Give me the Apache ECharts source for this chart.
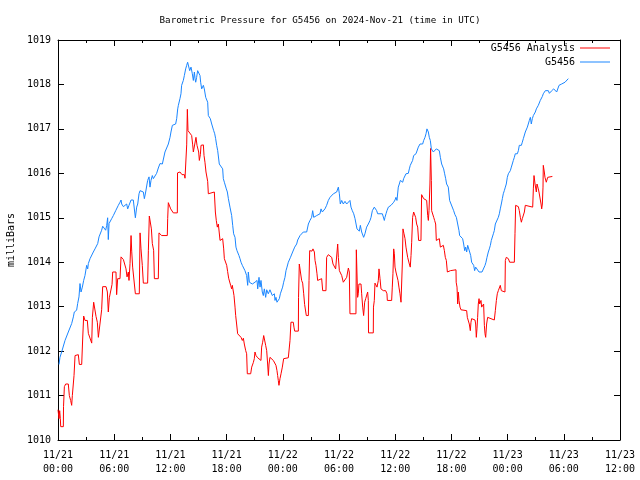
<!DOCTYPE html>
<html><head><meta charset="utf-8">
<script src="https://cdn.jsdelivr.net/npm/echarts@6/dist/echarts.min.js"></script>
<style>html,body{margin:0;padding:0;background:#fff}#c{width:640px;height:480px}</style>
</head><body><div id="c"></div><script>
// Hours since 2024-11-21 00:00 UTC
const xTickLabels = ['11/21\n00:00','11/21\n06:00','11/21\n12:00','11/21\n18:00','11/22\n00:00','11/22\n06:00','11/22\n12:00','11/22\n18:00','11/23\n00:00','11/23\n06:00','11/23\n12:00'];
const seriesNames = ['G5456 Analysis', 'G5456'];

const anaHours = [0.00,0.11,0.18,0.25,0.29,0.57,0.59,0.68,0.82,1.10,1.21,1.35,1.46,1.53,1.64,1.71,1.82,2.17,2.28,2.53,2.63,2.74,2.88,3.13,3.24,3.42,3.60,3.67,3.81,3.95,4.06,4.20,4.31,4.52,4.66,4.77,5.13,5.27,5.37,5.48,5.66,5.77,5.84,6.19,6.26,6.37,6.62,6.73,6.80,6.98,7.15,7.26,7.37,7.51,7.58,7.69,7.80,7.87,7.97,8.15,8.26,8.68,8.76,8.86,9.00,9.11,9.57,9.65,9.75,9.86,9.97,10.07,10.21,10.29,10.71,10.78,10.93,10.99,11.07,11.67,11.71,11.78,11.92,12.03,12.21,12.31,12.74,12.76,12.92,13.02,13.13,13.24,13.49,13.56,13.67,13.74,13.81,13.88,13.99,14.09,14.27,14.38,14.45,14.63,14.73,14.84,14.91,15.02,15.09,15.20,15.27,15.52,15.59,15.69,15.80,15.98,16.05,16.23,16.69,16.80,16.90,17.01,17.12,17.22,17.30,17.58,17.69,17.76,17.90,18.01,18.11,18.22,18.29,18.43,18.54,18.61,18.72,18.79,18.90,18.97,19.07,19.18,19.36,19.54,19.68,19.79,19.89,20.04,20.14,20.21,20.57,20.68,20.85,20.96,21.03,21.14,21.32,21.67,21.74,21.85,21.96,22.06,22.17,22.28,22.38,22.46,22.53,22.63,22.99,23.17,23.27,23.38,23.45,23.52,23.59,23.70,23.81,23.95,24.09,24.59,24.70,24.77,24.87,25.12,25.19,25.27,25.66,25.68,25.76,25.91,26.01,26.12,26.23,26.33,26.44,26.51,26.73,26.80,26.87,27.01,27.12,27.22,27.37,27.44,27.54,27.65,27.72,27.79,28.15,28.26,28.61,28.68,28.86,29.07,29.22,29.36,29.50,29.64,29.75,29.86,29.93,30.04,30.18,30.29,30.39,30.46,30.64,30.82,31.00,31.10,31.17,31.81,31.85,31.92,31.99,32.06,32.13,32.24,32.35,32.42,32.53,32.63,32.74,32.85,32.95,33.06,33.13,33.15,33.66,33.68,33.77,33.84,33.95,34.06,34.20,34.27,34.38,34.48,34.73,34.98,35.12,35.16,35.62,35.69,35.76,35.84,35.91,35.98,36.08,36.19,36.30,36.40,36.51,36.62,36.69,36.76,36.83,36.94,37.05,37.15,37.22,37.33,37.40,37.51,37.61,37.69,37.76,37.86,37.97,38.08,38.18,38.29,38.40,38.50,38.75,38.82,38.93,39.04,39.14,39.25,39.36,39.47,39.54,39.61,39.71,39.78,39.86,39.89,39.99,40.11,40.21,40.32,40.39,40.60,40.71,40.82,40.93,41.03,41.14,41.25,41.35,41.46,41.57,41.78,41.89,42.03,42.49,42.51,42.60,42.67,42.74,42.81,42.92,43.02,43.63,43.70,43.81,43.91,44.02,44.09,44.16,44.52,44.59,44.66,44.73,44.80,44.87,44.95,45.02,45.09,45.16,45.23,45.44,45.52,45.59,45.66,45.76,45.87,45.94,46.01,46.58,46.69,46.80,46.90,47.01,47.12,47.22,47.33,47.72,47.76,47.86,47.97,48.08,48.22,48.72,48.79,48.86,48.97,49.15,49.25,49.36,49.47,49.57,49.68,49.79,49.89,50.00,50.68,50.75,50.82,50.93,51.00,51.07,51.14,51.21,51.28,51.35,51.46,51.57,51.64,51.71,51.78,51.81,51.92,51.99,52.06,52.13,52.20,52.28,52.78];
const anaValues = [1010.68,1010.48,1010.66,1010.48,1010.30,1010.30,1010.75,1011.20,1011.26,1011.26,1011.00,1010.89,1010.78,1011.00,1011.04,1011.45,1011.90,1011.92,1011.70,1011.70,1012.25,1012.79,1012.69,1012.69,1012.40,1012.39,1012.18,1012.76,1013.10,1013.06,1012.78,1012.65,1012.31,1012.31,1012.93,1013.45,1013.45,1013.33,1012.88,1013.20,1013.20,1013.50,1013.78,1013.78,1013.27,1013.63,1013.63,1014.12,1014.08,1014.06,1014.06,1013.85,1013.67,1013.78,1013.59,1013.97,1014.60,1014.25,1013.89,1013.89,1013.29,1013.29,1014.66,1014.30,1013.93,1013.53,1013.53,1014.27,1015.04,1015.02,1014.75,1014.42,1014.27,1013.63,1013.63,1014.66,1014.68,1014.68,1014.60,1014.60,1014.98,1015.34,1015.31,1015.20,1015.16,1015.11,1015.11,1016.01,1015.99,1016.03,1016.04,1015.97,1015.97,1015.89,1015.86,1016.64,1017.44,1016.96,1016.94,1016.94,1016.85,1016.64,1016.48,1016.48,1016.81,1016.63,1016.59,1016.48,1016.29,1016.42,1016.63,1016.64,1016.40,1016.25,1016.03,1015.82,1015.54,1015.58,1015.58,1015.13,1014.94,1014.79,1014.86,1014.86,1014.49,1014.53,1014.30,1014.08,1014.09,1013.93,1013.79,1013.64,1013.64,1013.48,1013.40,1013.48,1013.48,1013.25,1012.99,1012.80,1012.61,1012.39,1012.37,1012.31,1012.24,1012.29,1012.16,1012.01,1011.94,1011.49,1011.49,1011.64,1011.74,1011.83,1011.98,1011.90,1011.85,1011.79,1012.09,1012.20,1012.35,1012.31,1012.13,1012.01,1011.71,1011.45,1011.71,1011.86,1011.79,1011.79,1011.68,1011.56,1011.45,1011.34,1011.23,1011.38,1011.49,1011.64,1011.83,1011.85,1011.86,1012.24,1012.65,1012.65,1012.54,1012.45,1012.45,1013.21,1013.96,1013.96,1013.59,1013.53,1013.29,1013.05,1013.03,1012.80,1012.80,1013.59,1014.26,1014.23,1014.25,1014.30,1014.23,1014.04,1013.93,1013.74,1013.59,1013.63,1013.63,1013.36,1013.36,1014.11,1014.17,1014.19,1014.11,1013.96,1013.96,1013.85,1013.89,1014.41,1014.11,1013.81,1013.81,1013.70,1013.74,1013.55,1013.59,1013.66,1013.87,1013.78,1012.84,1012.84,1014.28,1014.26,1013.21,1013.29,1013.51,1013.55,1013.51,1013.29,1012.99,1012.80,1013.10,1013.18,1013.14,1013.33,1013.14,1012.41,1012.41,1012.99,1013.14,1013.53,1013.54,1013.44,1013.59,1013.85,1013.63,1013.40,1013.36,1013.36,1013.29,1013.14,1013.14,1013.44,1013.74,1014.30,1014.19,1013.89,1013.78,1013.74,1013.59,1013.44,1013.29,1013.10,1013.10,1013.96,1014.75,1014.64,1014.53,1014.34,1014.30,1014.11,1014.11,1013.96,1013.89,1014.15,1014.45,1015.01,1015.13,1015.09,1015.01,1014.86,1014.79,1014.49,1014.49,1015.52,1015.50,1015.43,1015.39,1015.46,1015.39,1015.05,1014.94,1015.16,1015.76,1016.56,1015.84,1015.16,1015.16,1015.01,1014.94,1014.86,1014.49,1014.49,1014.53,1014.34,1014.30,1014.38,1014.38,1014.26,1014.11,1014.04,1013.78,1013.74,1013.81,1013.83,1013.83,1013.55,1013.44,1013.06,1013.33,1013.14,1012.99,1012.93,1012.91,1012.76,1012.73,1012.61,1012.46,1012.65,1012.73,1012.70,1012.61,1012.31,1012.50,1012.76,1013.06,1013.18,1013.06,1013.03,1013.14,1012.99,1013.06,1012.58,1012.39,1012.31,1012.61,1012.76,1012.80,1012.73,1012.70,1012.91,1013.14,1013.29,1013.36,1013.40,1013.48,1013.36,1013.33,1014.04,1014.11,1014.15,1014.08,1014.00,1014.00,1014.64,1015.28,1015.28,1015.25,1015.16,1015.01,1014.90,1014.98,1015.01,1015.13,1015.28,1015.31,1015.24,1015.65,1015.95,1015.76,1015.73,1015.58,1015.76,1015.73,1015.65,1015.58,1015.54,1015.31,1015.20,1015.31,1015.69,1016.18,1016.03,1015.91,1015.88,1015.80,1015.84,1015.91,1015.93];

const obsHours = [0.11,0.21,0.39,0.57,0.75,0.93,1.10,1.28,1.46,1.64,1.74,1.99,2.10,2.24,2.35,2.46,2.60,2.74,2.88,3.06,3.17,3.24,3.42,3.60,3.77,3.95,4.13,4.24,4.38,4.49,4.66,4.77,4.95,5.09,5.20,5.30,5.37,5.45,5.55,5.73,5.91,6.02,6.16,6.26,6.44,6.62,6.73,6.80,6.98,7.15,7.33,7.44,7.58,7.80,8.04,8.22,8.26,8.40,8.51,8.65,8.76,8.93,9.11,9.22,9.36,9.57,9.72,9.82,9.93,10.07,10.18,10.36,10.53,10.71,10.89,11.14,11.24,11.42,11.60,11.78,11.96,12.06,12.21,12.42,12.56,12.67,12.78,12.85,13.02,13.13,13.20,13.38,13.49,13.63,13.74,13.84,13.99,14.06,14.20,14.34,14.45,14.56,14.63,14.70,14.80,14.91,15.05,15.16,15.23,15.34,15.44,15.52,15.62,15.69,15.77,15.87,15.98,16.05,16.16,16.26,16.41,16.51,16.62,16.73,16.83,16.94,17.05,17.15,17.22,17.40,17.58,17.65,17.76,17.86,17.97,18.08,18.19,18.36,18.54,18.65,18.75,18.90,19.00,19.11,19.22,19.32,19.43,19.54,19.68,19.82,19.96,20.14,20.25,20.32,20.43,20.57,20.75,20.89,21.03,21.14,21.25,21.32,21.46,21.57,21.67,21.81,21.92,22.03,22.17,22.28,22.45,22.63,22.81,22.88,22.99,23.10,23.17,23.27,23.38,23.52,23.63,23.74,23.88,23.98,24.09,24.23,24.34,24.45,24.59,24.70,24.80,24.95,25.05,25.16,25.27,25.37,25.48,25.59,25.69,25.84,26.01,26.19,26.37,26.55,26.73,26.90,27.08,27.19,27.30,27.44,27.62,27.79,27.97,28.08,28.22,28.33,28.50,28.68,28.86,29.04,29.22,29.40,29.57,29.75,29.93,30.04,30.14,30.29,30.46,30.64,30.82,31.00,31.17,31.28,31.42,31.57,31.71,31.82,31.92,32.06,32.17,32.28,32.42,32.53,32.63,32.77,32.95,33.13,33.31,33.42,33.56,33.66,33.77,33.91,34.02,34.13,34.38,34.63,34.73,34.84,34.91,35.02,35.12,35.27,35.41,35.55,35.69,35.84,35.98,36.08,36.19,36.33,36.44,36.55,36.69,36.80,36.90,37.05,37.15,37.26,37.40,37.51,37.61,37.76,37.86,37.97,38.11,38.22,38.33,38.47,38.65,38.75,38.93,39.04,39.18,39.29,39.39,39.54,39.64,39.75,39.86,39.96,40.07,40.18,40.28,40.39,40.50,40.60,40.71,40.82,40.96,41.07,41.17,41.28,41.39,41.49,41.67,41.81,41.96,42.10,42.24,42.38,42.53,42.67,42.81,42.88,42.99,43.09,43.20,43.31,43.42,43.52,43.63,43.74,43.84,43.95,44.06,44.16,44.27,44.38,44.48,44.59,44.70,44.80,44.95,45.05,45.16,45.27,45.37,45.48,45.59,45.69,45.80,45.94,46.05,46.16,46.26,46.37,46.48,46.58,46.69,46.80,46.90,47.01,47.12,47.22,47.33,47.44,47.54,47.65,47.76,47.86,47.97,48.08,48.18,48.29,48.40,48.50,48.61,48.72,48.82,48.93,49.04,49.15,49.25,49.36,49.47,49.57,49.68,49.79,49.89,50.00,50.11,50.21,50.32,50.43,50.53,50.64,50.75,50.85,50.96,51.07,51.17,51.28,51.39,51.49,51.60,51.71,51.81,51.92,52.03,52.13,52.24,52.35,52.46,52.56,52.67,52.78,52.92,53.06,53.24,53.34,53.49,53.63,53.77,53.95,54.13,54.31,54.48];
const obsValues = [1011.70,1011.86,1011.98,1012.02,1012.24,1012.20,1012.43,1012.47,1012.62,1012.77,1012.88,1012.92,1013.07,1013.22,1013.52,1013.33,1013.44,1013.59,1013.70,1013.93,1013.85,1013.97,1014.08,1014.12,1014.23,1014.30,1014.27,1014.42,1014.57,1014.60,1014.72,1014.81,1014.79,1014.72,1014.83,1015.00,1014.51,1014.87,1014.90,1014.98,1015.05,1015.09,1015.16,1015.20,1015.28,1015.35,1015.40,1015.31,1015.25,1015.25,1015.31,1015.20,1015.28,1015.40,1015.40,1015.40,1015.00,1015.24,1015.31,1015.54,1015.61,1015.65,1015.58,1015.43,1015.58,1015.84,1015.92,1015.69,1015.84,1015.95,1015.88,1015.92,1016.00,1016.12,1016.22,1016.21,1016.25,1016.48,1016.57,1016.66,1016.81,1016.93,1017.08,1017.11,1017.11,1017.23,1017.45,1017.53,1017.68,1017.79,1017.98,1018.09,1018.20,1018.35,1018.43,1018.50,1018.50,1018.31,1018.39,1018.24,1018.09,1018.28,1018.13,1018.05,1018.16,1018.31,1018.31,1018.20,1018.05,1017.90,1017.94,1017.98,1017.90,1017.86,1017.71,1017.68,1017.60,1017.30,1017.26,1017.23,1017.11,1017.08,1016.96,1016.89,1016.78,1016.63,1016.51,1016.48,1016.21,1016.18,1016.10,1015.88,1015.80,1015.84,1015.65,1015.58,1015.43,1015.24,1015.05,1014.83,1014.64,1014.56,1014.34,1014.26,1014.23,1014.15,1014.08,1014.00,1013.93,1013.87,1013.81,1013.70,1013.48,1013.78,1013.55,1013.51,1013.51,1013.48,1013.55,1013.51,1013.59,1013.40,1013.66,1013.44,1013.59,1013.33,1013.25,1013.40,1013.21,1013.38,1013.29,1013.38,1013.36,1013.25,1013.29,1013.29,1013.14,1013.21,1013.10,1013.14,1013.18,1013.29,1013.33,1013.44,1013.55,1013.66,1013.81,1013.89,1014.00,1014.04,1014.10,1014.13,1014.23,1014.26,1014.34,1014.38,1014.41,1014.50,1014.49,1014.60,1014.64,1014.68,1014.71,1014.68,1014.86,1014.94,1015.01,1015.16,1015.01,1014.98,1015.05,1015.01,1015.09,1015.20,1015.13,1015.16,1015.20,1015.28,1015.39,1015.46,1015.50,1015.54,1015.52,1015.58,1015.69,1015.54,1015.31,1015.39,1015.31,1015.37,1015.31,1015.28,1015.39,1015.24,1015.16,1015.09,1014.98,1014.86,1014.75,1014.71,1014.70,1014.83,1014.68,1014.64,1014.56,1014.64,1014.79,1014.86,1014.94,1015.01,1015.16,1015.13,1015.24,1015.28,1015.16,1015.09,1015.09,1015.09,1015.05,1014.94,1015.01,1015.09,1015.16,1015.24,1015.25,1015.28,1015.31,1015.35,1015.40,1015.46,1015.39,1015.69,1015.76,1015.84,1015.84,1015.80,1015.88,1015.91,1015.99,1015.99,1016.00,1016.10,1016.18,1016.21,1016.29,1016.40,1016.44,1016.44,1016.48,1016.59,1016.66,1016.70,1016.66,1016.74,1016.81,1016.89,1017.00,1016.93,1016.81,1016.74,1016.55,1016.59,1016.48,1016.44,1016.51,1016.55,1016.59,1016.55,1016.51,1016.36,1016.21,1016.18,1016.10,1015.99,1015.88,1015.76,1015.69,1015.39,1015.31,1015.28,1015.16,1015.07,1015.01,1014.86,1014.71,1014.60,1014.64,1014.64,1014.53,1014.41,1014.26,1014.34,1014.23,1014.38,1014.34,1014.23,1014.15,1014.00,1014.04,1013.93,1013.81,1013.89,1013.85,1013.89,1013.78,1013.74,1013.81,1013.78,1013.74,1013.81,1013.93,1014.00,1014.11,1014.23,1014.30,1014.38,1014.49,1014.53,1014.64,1014.71,1014.86,1014.90,1014.86,1015.01,1015.09,1015.20,1015.31,1015.43,1015.54,1015.61,1015.69,1015.76,1015.91,1015.99,1016.03,1016.06,1016.14,1016.18,1016.29,1016.36,1016.44,1016.48,1016.44,1016.51,1016.63,1016.66,1016.63,1016.70,1016.78,1016.81,1016.93,1016.96,1017.04,1017.08,1017.19,1017.26,1017.11,1017.23,1017.30,1017.26,1017.38,1017.45,1017.49,1017.53,1017.56,1017.64,1017.68,1017.73,1017.79,1017.83,1017.86,1017.90,1017.83,1017.86,1017.80,1017.83,1017.85,1017.86,1017.90,1017.86,1017.83,1017.86,1017.98,1018.00,1018.01,1018.03,1018.05,1018.09,1018.13];

const FONT = '"DejaVu Sans Mono", "Liberation Mono", monospace';
const zip = (a, b) => a.map((h, i) => [h, b[i]]);

const tickStyle = {show: true, inside: true, length: 6, lineStyle: {color: '#000', width: 1}};
const minorStyle = {show: true, splitNumber: 2, length: 3, lineStyle: {color: '#000', width: 1}};
const lineSt = {show: true, onZero: false, lineStyle: {color: '#000', width: 1}};
const legendBase = {right: 30, orient: 'vertical', align: 'right', icon: 'rect', padding: 0,
  itemWidth: 30, itemHeight: 1, selectedMode: false,
  textStyle: {fontFamily: FONT, fontSize: 10, color: '#000'}};

const chart = echarts.init(document.getElementById('c'), null, {renderer: 'canvas'});
chart.setOption({
  animation: false,
  backgroundColor: '#fff',
  title: {
    text: 'Barometric Pressure for G5456 on 2024-Nov-21 (time in UTC)',
    left: 'center', top: 11,
    textStyle: {fontFamily: FONT, fontSize: 9.2, fontWeight: 'normal', color: '#000'}
  },
  legend: [
    Object.assign({}, legendBase, {data: [seriesNames[0]], top: 43}),
    Object.assign({}, legendBase, {data: [seriesNames[1]], top: 57})
  ],
  grid: {left: 58, right: 20, top: 40, bottom: 40, containLabel: false, outerBoundsMode: 'none'},
  xAxis: [
    {type: 'value', position: 'bottom', min: 0, max: 60, interval: 6,
     axisLine: lineSt, axisTick: tickStyle, minorTick: minorStyle, splitLine: {show: false},
     axisLabel: {fontFamily: FONT, fontSize: 10, color: '#000', margin: 8, lineHeight: 14,
       formatter: v => xTickLabels[Math.round(v / 6)]}},
    {type: 'value', position: 'top', min: 0, max: 60, interval: 6,
     axisLine: lineSt, axisTick: tickStyle, minorTick: minorStyle, splitLine: {show: false},
     axisLabel: {show: false}}
  ],
  yAxis: [
    {type: 'value', position: 'left', min: 1010, max: 1019, interval: 1,
     name: 'milliBars', nameLocation: 'middle', nameGap: 38, nameRotate: 90,
     nameTextStyle: {fontFamily: FONT, fontSize: 10, color: '#000'},
     axisLine: lineSt, axisTick: tickStyle, splitLine: {show: false},
     axisLabel: {fontFamily: FONT, fontSize: 10, color: '#000', margin: 7, formatter: v => String(v)}},
    {type: 'value', position: 'right', min: 1010, max: 1019, interval: 1,
     axisLine: lineSt, axisTick: tickStyle, splitLine: {show: false},
     axisLabel: {show: false}}
  ],
  series: [
    {name: seriesNames[0], type: 'line', xAxisIndex: 0, yAxisIndex: 0, showSymbol: false,
     color: '#ff0000', lineStyle: {width: 1, color: '#ff0000'}, data: zip(anaHours, anaValues)},
    {name: seriesNames[1], type: 'line', xAxisIndex: 0, yAxisIndex: 0, showSymbol: false,
     color: '#1a86ff', lineStyle: {width: 1, color: '#1a86ff'}, data: zip(obsHours, obsValues)}
  ]
});
</script></body></html>
